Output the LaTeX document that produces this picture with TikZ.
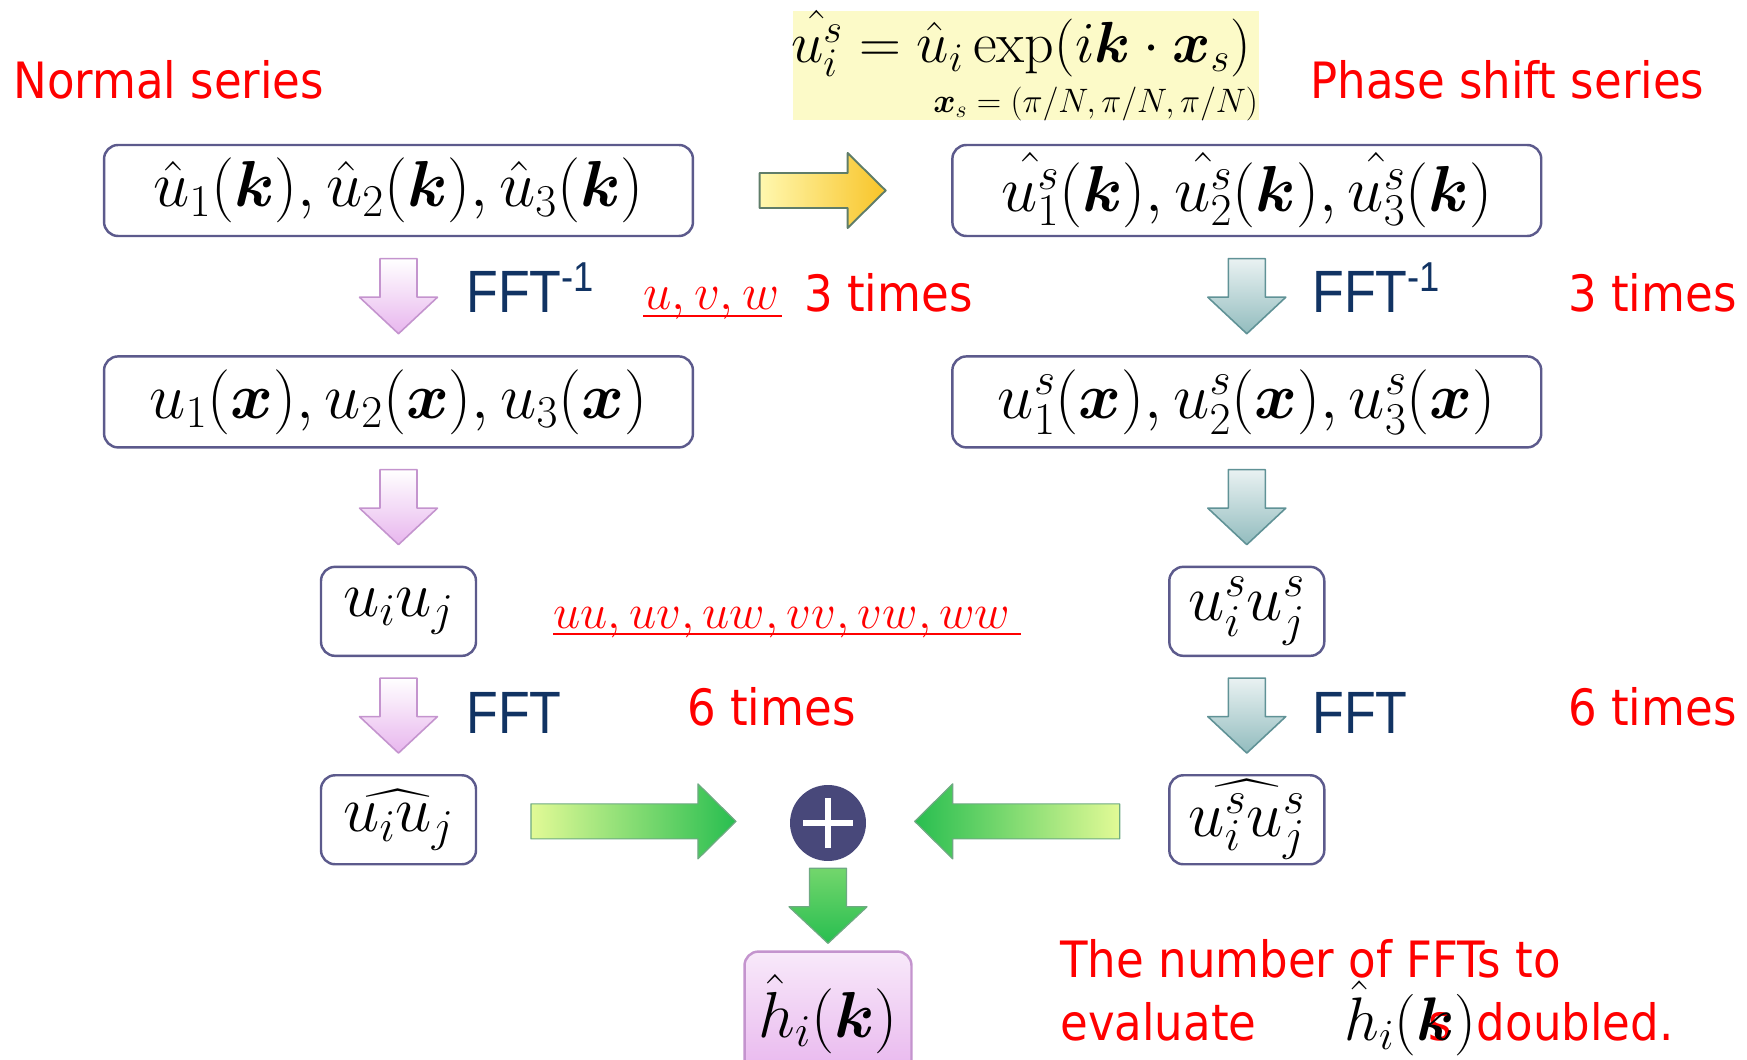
\RequirePackage{fix-cm}
\documentclass[tikz,border=0pt]{standalone}
\usepackage{amsmath}
\usepackage{fontspec}
\newfontfamily\redfont[FakeStretch=0.9]{DejaVu Sans}
\newfontfamily\fftfont[FakeStretch=0.87]{Liberation Sans}
\usetikzlibrary{calc,positioning}

\definecolor{boxline}{RGB}{92,90,140}
\definecolor{pinkfill}{RGB}{232,182,238}
\definecolor{pinkline}{RGB}{196,148,206}
\definecolor{tealfill}{RGB}{146,188,190}
\definecolor{tealline}{RGB}{96,146,150}
\definecolor{greenlight}{RGB}{226,250,150}
\definecolor{greendark}{RGB}{40,190,80}
\definecolor{greenline}{RGB}{110,170,130}
\definecolor{yellowlight}{RGB}{255,248,175}
\definecolor{yelloworange}{RGB}{248,196,40}
\definecolor{arrowline}{RGB}{95,125,105}
\definecolor{formulabg}{RGB}{252,250,200}
\definecolor{plusfill}{RGB}{72,72,122}
\definecolor{navy}{RGB}{17,51,99}

\begin{document}
\begin{tikzpicture}[x=0.02cm, y=0.02cm, line join=round]
    \tikzset{
        stagebox/.style={draw=boxline, line width=1.4pt, rounded corners=0.28cm, fill=white, inner sep=0pt, font=\fontsize{37}{44}\selectfont},
        widebox/.style={stagebox, minimum width=11.78cm, minimum height=1.82cm},
        smallbox/.style={stagebox, minimum width=3.1cm, minimum height=1.78cm},
        resultbox/.style={stagebox, draw=pinkline, top color=pinkfill!30!white, bottom color=pinkfill, minimum width=3.34cm, minimum height=2.5cm},
        seriesLabel/.style={text=red, font=\redfont\fontsize{28.5}{34}\selectfont, inner sep=0pt},
        fftLabel/.style={text=navy, font=\fftfont\fontsize{34}{40}\selectfont, inner sep=0pt},
        pairLabel/.style={text=red, font=\fontsize{29}{34}\selectfont, inner sep=0pt},
        redrule/.style={draw=red, line width=1.6pt},
        pinkflow/.style={draw=pinkline, line width=0.9pt, top color=white, bottom color=pinkfill},
        tealflow/.style={draw=tealline, line width=0.9pt, top color=tealfill!20!white, bottom color=tealfill},
        yellowflow/.style={draw=arrowline, line width=1.1pt, left color=yellowlight, right color=yelloworange},
        greenright/.style={draw=greenline, line width=0.7pt, left color=greenlight, right color=greendark},
        greenleft/.style={draw=greenline, line width=0.7pt, left color=greendark, right color=greenlight},
        greendown/.style={draw=greenline, line width=0.7pt, top color=greenlight!40!greendark, bottom color=greendark},
        plusnode/.style={circle, fill=plusfill, minimum size=1.52cm, inner sep=0pt},
        plusbar/.style={draw=white, line width=3.4pt}
    }

    \newcommand{\vflow}[3]{%
        \coordinate (m) at ($(#1.south)!0.5!(#2.north)$);
        \shade[#3] ($(m)+(-18.5,37.5)$) -- ++(37,0) -- ++(0,-38.5) -- ++(20.5,0)
            -- ($(m)+(0,-37.5)$) -- ($(m)+(-39,-1)$) -- ++(20.5,0) -- cycle;
    }
    \newcommand{\hflow}[5]{%
        \coordinate (m) at ($(#1)!0.5!(#2)$);
        \shade[#3] ($(m)+({-(#4)*(#5)},17.5)$) -- ($(m)+({(#4)*((#5)-38)},17.5)$)
            -- ($(m)+({(#4)*((#5)-38)},37.5)$) -- ($(m)+({(#4)*(#5)},0)$)
            -- ($(m)+({(#4)*((#5)-38)},-37.5)$) -- ($(m)+({(#4)*((#5)-38)},-17.5)$)
            -- ($(m)+({-(#4)*(#5)},-17.5)$) -- cycle;
    }

    \useasboundingbox (0,0) rectangle (1747,-1060);

    % Titles and phase shift definition
    \node[seriesLabel, anchor=west] (normlabel) at (13,-80) {Normal series};
    \node[seriesLabel, anchor=west] (shiftlabel) at (1310,-80) {Phase shift series};
    \node[fill=formulabg, minimum width=9.32cm, minimum height=2.18cm, inner sep=0pt] (shiftdef) at (1026,-65.5) {};
    \node[anchor=base west, inner sep=0pt, font=\fontsize{33}{40}\selectfont] (shifteq)
        at ($(shiftdef.north west)+(-2,-52)$) {$\hat{u_i^s} = \hat{u}_i \exp(i\boldsymbol{k}\cdot\boldsymbol{x}_s)$};
    \node[anchor=base east, inner sep=0pt, font=\fontsize{19.3}{23}\selectfont] (shiftpos)
        at ($(shiftdef.south east)+(-1,8)$) {$\boldsymbol{x}_s = (\pi/N, \pi/N, \pi/N)$};

    % Normal series
    \node[widebox] (normk) at (398.5,-190.5) {$\hat{u}_1(\boldsymbol{k}), \hat{u}_2(\boldsymbol{k}), \hat{u}_3(\boldsymbol{k})$};
    \node[widebox, below=2.36cm of normk] (normx) {$u_1(\boldsymbol{x}), u_2(\boldsymbol{x}), u_3(\boldsymbol{x})$};
    \node[smallbox, below=2.34cm of normx] (normuu) {$u_iu_j$};
    \node[smallbox, below=2.34cm of normuu] (normhat) {$\widehat{u_iu_j}$};

    % Phase shift series
    \node[widebox, right=5.14cm of normk] (shiftk) {$\hat{u_1^s}(\boldsymbol{k}), \hat{u_2^s}(\boldsymbol{k}), \hat{u_3^s}(\boldsymbol{k})$};
    \node[widebox, below=2.36cm of shiftk] (shiftx) {$u_1^s(\boldsymbol{x}), u_2^s(\boldsymbol{x}), u_3^s(\boldsymbol{x})$};
    \node[smallbox, below=2.34cm of shiftx] (shiftuu) {$u_i^su_j^s$};
    \node[smallbox, below=2.34cm of shiftuu] (shifthat) {$\widehat{u_i^su_j^s}$};

    % Sum and result
    \node[plusnode] (sum) at (828,-823) {};
    \draw[plusbar] ($(sum)+(-25,0)$) -- ($(sum)+(25,0)$);
    \draw[plusbar] ($(sum)+(0,-25)$) -- ($(sum)+(0,25)$);
    \node[resultbox, below=1.78cm of sum] (result) {$\hat{h}_i(\boldsymbol{k})$};

    % Flow arrows
    \hflow{normk.east}{shiftk.west}{yellowflow}{1}{63}
    \vflow{normk}{normx}{pinkflow}
    \vflow{normx}{normuu}{pinkflow}
    \vflow{normuu}{normhat}{pinkflow}
    \vflow{shiftk}{shiftx}{tealflow}
    \vflow{shiftx}{shiftuu}{tealflow}
    \vflow{shiftuu}{shifthat}{tealflow}
    \hflow{normhat.east}{sum.west}{greenright}{1}{102.5}
    \hflow{shifthat.west}{sum.east}{greenleft}{-1}{102.5}
    \vflow{sum}{result}{greendown}

    % FFT labels
    \node[fftLabel, anchor=base west] (fftinvL) at (466,-313) {FFT\textsuperscript{-1}};
    \node[fftLabel, anchor=base west] (fftinvR) at (1312,-313) {FFT\textsuperscript{-1}};
    \node[fftLabel, anchor=base west] (fftL) at (466,-733) {FFT};
    \node[fftLabel, anchor=base west] (fftR) at (1312,-733) {FFT};

    % Counts
    \node[pairLabel, anchor=base west] (uvw) at (643,-310) {$u, v, w$};
    \draw[redrule] ($(uvw.base west)+(0,-6)$) -- ($(uvw.base east)+(2,-6)$);
    \node[seriesLabel, anchor=base west] (threeL) at (804,-312) {3 times};
    \node[seriesLabel, anchor=base west] (threeR) at (1568,-312) {3 times};
    \node[pairLabel, font=\fontsize{27.8}{33}\selectfont, anchor=base west] (pairs) at (553,-628) {$uu, uv, uw, vv, vw, ww$};
    \draw[redrule] ($(pairs.base west)+(0,-6)$) -- ($(pairs.base east)+(10,-6)$);
    \node[seriesLabel, anchor=base west] (sixL) at (687,-725) {6 times};
    \node[seriesLabel, anchor=base west] (sixR) at (1568,-725) {6 times};

    % Note
    \node[seriesLabel, anchor=base west] (noteA) at (1060,-977) {The number of FFTs to};
    \node[seriesLabel, anchor=base west] (noteB) at (1060,-1040) {evaluate};
    \node[seriesLabel, anchor=base west] (noteS) at (1428,-1040) {s};
    \node[anchor=base west, inner sep=0pt, font=\fontsize{35}{42}\selectfont] (noteH) at (1344,-1040) {$\hat{h}_i(\boldsymbol{k})$};
    \node[seriesLabel, anchor=base west] (noteC) at (noteH.base east) {doubled.};
\end{tikzpicture}
\end{document}
